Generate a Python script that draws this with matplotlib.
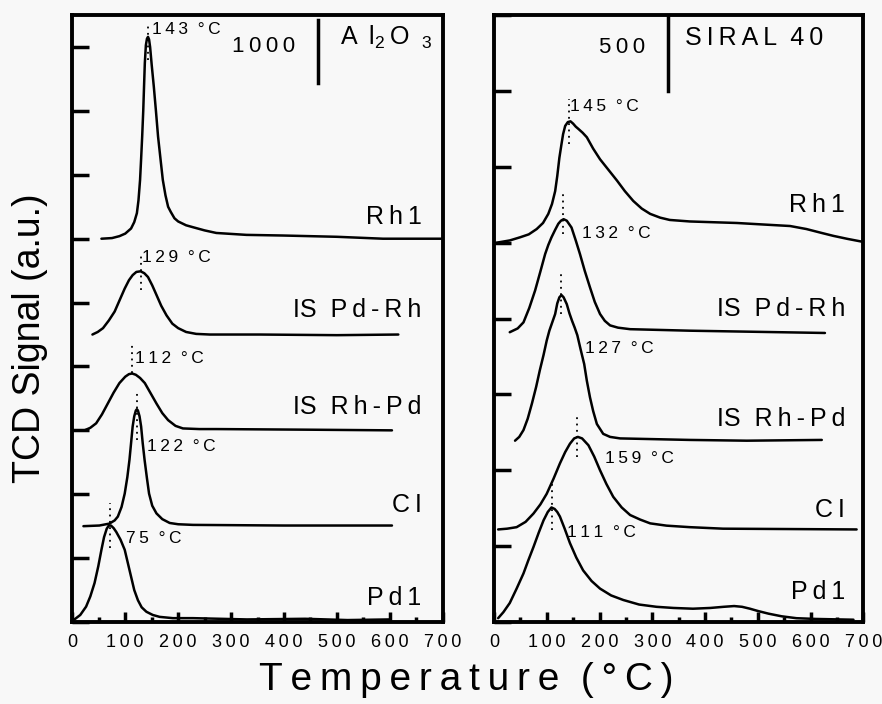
import matplotlib
matplotlib.use("Agg")
import matplotlib.pyplot as plt
from matplotlib.ticker import MultipleLocator

plt.rcParams['font.family'] = ['Liberation Sans', 'DejaVu Sans']
plt.rcParams['mathtext.default'] = 'regular'

TS = '\u2009'  # thin space, used as letter spacing
WS = '  '      # word gap


def spaced(s):
    # wide letter spacing like the original figure
    return WS.join(TS.join(w) for w in s.split(' '))


# ---- Al2O3 panel (y in units of 1000, one tick = 1000) ----
al_rh1_t = [55, 75, 89, 100, 111, 117, 122, 125, 128, 130, 132, 134, 135.5, 137, 139, 141, 143, 145, 147,
            150, 154, 158, 162, 167, 171, 176, 181, 186, 193, 200, 215, 228, 250, 272, 329, 398, 500, 587, 700]
al_rh1_y = [6.00, 6.01, 6.04, 6.08, 6.16, 6.26, 6.40, 6.60, 6.92, 7.25, 7.60, 8.00, 8.38, 8.75, 9.03, 9.13, 9.16, 9.12, 9.00,
            8.72, 8.38, 8.00, 7.60, 7.22, 6.92, 6.68, 6.50, 6.42, 6.32, 6.27, 6.21, 6.18, 6.13, 6.09, 6.06, 6.05, 6.03, 6.00, 6.00]

al_pdrh_t = [38, 48, 58, 69, 80, 90, 99, 107, 114, 121, 129, 136, 143, 151, 159, 168, 178, 189, 200, 215, 234, 260, 354, 500, 616]
al_pdrh_y = [4.50, 4.54, 4.60, 4.72, 4.86, 5.05, 5.22, 5.35, 5.43, 5.48, 5.49, 5.46, 5.40, 5.27, 5.12, 4.95, 4.80, 4.67, 4.60,
             4.54, 4.51, 4.50, 4.50, 4.49, 4.50]

al_rhpd_t = [23, 34, 45, 56, 67, 78, 89, 100, 107, 113, 120, 128, 137, 148, 159, 170, 181, 195, 209, 240, 272, 450, 604]
al_rhpd_y = [3.00, 3.04, 3.11, 3.25, 3.42, 3.59, 3.74, 3.84, 3.88, 3.89, 3.87, 3.82, 3.74, 3.58, 3.42, 3.27, 3.16, 3.07, 3.03,
             3.02, 3.02, 3.01, 3.00]

al_ci_t = [21, 51, 70, 80, 86, 93, 99, 104, 108, 111, 114, 117, 120, 122, 124, 127, 130, 133, 136.5, 141, 145, 151, 159,
           170, 184, 200, 228, 400, 604]
al_ci_y = [1.50, 1.51, 1.54, 1.59, 1.65, 1.80, 2.01, 2.27, 2.54, 2.80, 3.06, 3.22, 3.31, 3.33, 3.31, 3.22, 3.06, 2.80, 2.54,
           2.25, 2.01, 1.82, 1.70, 1.61, 1.55, 1.53, 1.52, 1.51, 1.51]

al_pd1_t = [4, 15, 26, 34, 42, 49, 55, 60, 65, 69, 73, 78, 83, 91, 99, 105, 111, 117, 124, 131, 140, 152, 165, 190, 228,
            330, 440, 520, 600]
al_pd1_y = [0.04, 0.11, 0.24, 0.40, 0.61, 0.87, 1.13, 1.33, 1.46, 1.51, 1.51, 1.47, 1.41, 1.29, 1.13, 0.92, 0.71, 0.50, 0.34,
            0.23, 0.16, 0.11, 0.08, 0.06, 0.06, 0.04, 0.05, 0.03, 0.04]

# ---- SIRAL 40 panel (y in units of 500, one tick = 500) ----
si_rh1_t = [5, 30, 49, 66, 81, 93, 103, 110, 116, 120, 124, 128, 131, 135, 140, 145, 150, 155, 160, 168, 176, 188, 201, 217,
            233, 248, 264, 280, 296, 315, 333, 371, 415, 460, 510, 561, 592, 620, 643, 670, 700]
si_rh1_y = [5.00, 5.03, 5.07, 5.11, 5.18, 5.26, 5.38, 5.51, 5.68, 5.88, 6.12, 6.30, 6.43, 6.54, 6.59, 6.60, 6.57, 6.53, 6.50,
            6.45, 6.39, 6.24, 6.10, 5.96, 5.82, 5.68, 5.55, 5.45, 5.38, 5.33, 5.30, 5.28, 5.27, 5.26, 5.24, 5.22, 5.18, 5.13,
            5.09, 5.05, 5.01]

si_pdrh_t = [30, 45, 56, 67, 78, 88, 97, 103, 109, 116, 122, 127, 132, 138, 143, 147, 155, 163, 172, 182, 191, 201, 210, 220,
             235, 258, 371, 627]
si_pdrh_y = [3.82, 3.87, 3.95, 4.14, 4.37, 4.62, 4.85, 4.97, 5.07, 5.17, 5.25, 5.29, 5.31, 5.29, 5.24, 5.20, 5.03, 4.85, 4.63,
             4.41, 4.22, 4.06, 3.97, 3.91, 3.88, 3.86, 3.84, 3.81]

si_rhpd_t = [40, 48, 56, 64, 72, 80, 87, 94, 100, 105, 110, 116, 120, 124, 128, 132, 138, 143, 148, 153, 158, 164, 171, 176,
             182, 188, 195, 207, 220, 239, 371, 479, 621]
si_rhpd_y = [2.39, 2.44, 2.53, 2.68, 2.88, 3.10, 3.32, 3.52, 3.71, 3.84, 3.94, 4.06, 4.20, 4.28, 4.31, 4.28, 4.19, 4.07, 3.97,
             3.88, 3.78, 3.60, 3.40, 3.18, 2.96, 2.78, 2.61, 2.48, 2.44, 2.42, 2.40, 2.39, 2.40]

si_ci_t = [8, 25, 43, 60, 75, 88, 100, 113, 125, 135, 144, 152, 159, 167, 179, 190, 201, 213, 226, 242, 258, 277, 296, 327,
           371, 434, 687]
si_ci_y = [1.22, 1.23, 1.25, 1.32, 1.43, 1.55, 1.69, 1.89, 2.09, 2.24, 2.35, 2.42, 2.44, 2.42, 2.33, 2.18, 2.00, 1.82, 1.65,
           1.51, 1.41, 1.35, 1.30, 1.27, 1.25, 1.23, 1.22]

si_pd1_t = [8, 18, 30, 43, 56, 65, 75, 85, 94, 102, 109, 115, 120, 125, 134, 144, 156, 169, 185, 201, 222, 245, 275, 308, 340,
            377, 410, 435, 455, 470, 485, 500, 520, 545, 573, 610, 681]
si_pd1_y = [0.05, 0.13, 0.25, 0.44, 0.64, 0.81, 0.99, 1.18, 1.34, 1.45, 1.51, 1.49, 1.45, 1.39, 1.23, 1.04, 0.85, 0.68, 0.54,
            0.44, 0.35, 0.29, 0.23, 0.20, 0.185, 0.175, 0.185, 0.20, 0.21, 0.20, 0.175, 0.145, 0.11, 0.075, 0.05, 0.04, 0.03]

# peak labels: text, peak T, dotted line y range, text position
al_peaks = [("143 °C", 143, 8.80, 9.37, 150, 9.28),
            ("129 °C", 129, 5.20, 5.77, 131, 5.71),
            ("112 °C", 113, 3.89, 4.38, 118, 4.13),
            ("122 °C", 122, 2.85, 3.58, 142, 2.75),
            ("75 °C", 72, 1.16, 1.86, 102, 1.30)]
si_peaks = [("145 °C", 143, 6.30, 6.89, 144, 6.79),
            ("132 °C", 131, 5.12, 5.68, 167, 5.12),
            ("127 °C", 128, 4.06, 4.63, 172, 3.61),
            ("159 °C", 158, 2.17, 2.75, 210, 2.16),
            ("111 °C", 110, 1.21, 1.83, 138, 1.18)]

names = ["Rh1", "IS Pd-Rh", "IS Rh-Pd", "CI", "Pd1"]
al_name_y = [6.34, 4.88, 3.36, 1.83, 0.38]
si_name_y = [5.50, 4.13, 2.68, 1.47, 0.39]

bg = '#f8f8f8'
fig = plt.figure(figsize=(8.82, 7.04), dpi=100, facecolor=bg)
ax1 = fig.add_axes([0.082, 0.1165, 0.420, 0.862])
ax2 = fig.add_axes([0.560, 0.1165, 0.419, 0.862])

al_curves = [(al_rh1_t, al_rh1_y), (al_pdrh_t, al_pdrh_y), (al_rhpd_t, al_rhpd_y),
             (al_ci_t, al_ci_y), (al_pd1_t, al_pd1_y)]
si_curves = [(si_rh1_t, si_rh1_y), (si_pdrh_t, si_pdrh_y), (si_rhpd_t, si_rhpd_y),
             (si_ci_t, si_ci_y), (si_pd1_t, si_pd1_y)]


def style_axis(ax, ytop):
    ax.set_facecolor(bg)
    ax.set_xlim(0, 700)
    ax.set_ylim(0, ytop)
    ax.xaxis.set_minor_locator(MultipleLocator(50))
    ax.yaxis.set_major_locator(MultipleLocator(1))
    ax.set_xticks(range(0, 800, 100))
    ax.set_xticklabels([TS.join(str(v)) for v in range(0, 800, 100)])
    ax.tick_params(axis='x', which='major', direction='in', length=7, width=2.5, pad=9, labelsize=13)
    ax.tick_params(axis='x', which='minor', direction='in', length=3.5, width=2.5)
    ax.tick_params(axis='y', which='major', direction='in', length=12, width=2.5, labelleft=False)
    for s in ax.spines.values():
        s.set_linewidth(2.8)


def draw_panel(ax, curves, peaks, name_y, name_x):
    for t, y in curves:
        ax.plot(t, y, color='black', lw=1.8, solid_joinstyle='round', solid_capstyle='round')
    for txt, tp, y0, y1, tx, ty in peaks:
        ax.plot([tp, tp], [y0, y1], color='black', lw=1.3, ls=(0, (1, 2.5)))
        ax.text(tx, ty, spaced(txt), fontsize=12.5, ha='left', va='center')
    for nm, ny in zip(names, name_y):
        if nm.startswith("IS "):
            lab = "IS" + WS + TS.join(nm[3:])
        else:
            lab = TS.join(nm)
        ax.text(name_x, ny, lab, fontsize=18, ha='right', va='center')


style_axis(ax1, 9.5)
style_axis(ax2, 8.0)
draw_panel(ax1, al_curves, al_peaks, al_name_y, 660)
draw_panel(ax2, si_curves, si_peaks, si_name_y, 665)

# scale bars and panel titles
ax1.plot([464, 464], [8.44, 9.42], color='black', lw=2.5)
ax1.text(361, 9.01, spaced("1000"), fontsize=16, ha='center', va='center')
ax1.text(506, 9.15, "A" + TS + " l$_2$" + TS + "O" + TS + " $_3$", fontsize=18, ha='left', va='center')

ax2.plot([330, 330], [7.0, 8.0], color='black', lw=2.5)
ax2.text(243, 7.57, spaced("500"), fontsize=16, ha='center', va='center')
ax2.text(362, 7.70, spaced("SIRAL 40"), fontsize=18, ha='left', va='center')

fig.text(0.529, 0.034, spaced("Temperature (°C)"), fontsize=28, ha='center', va='center')
fig.text(0.034, 0.52, "TCD Signal (a.u.)", fontsize=27, rotation=90, ha='center', va='center')

fig.savefig("out.png", dpi=100, facecolor=bg)
